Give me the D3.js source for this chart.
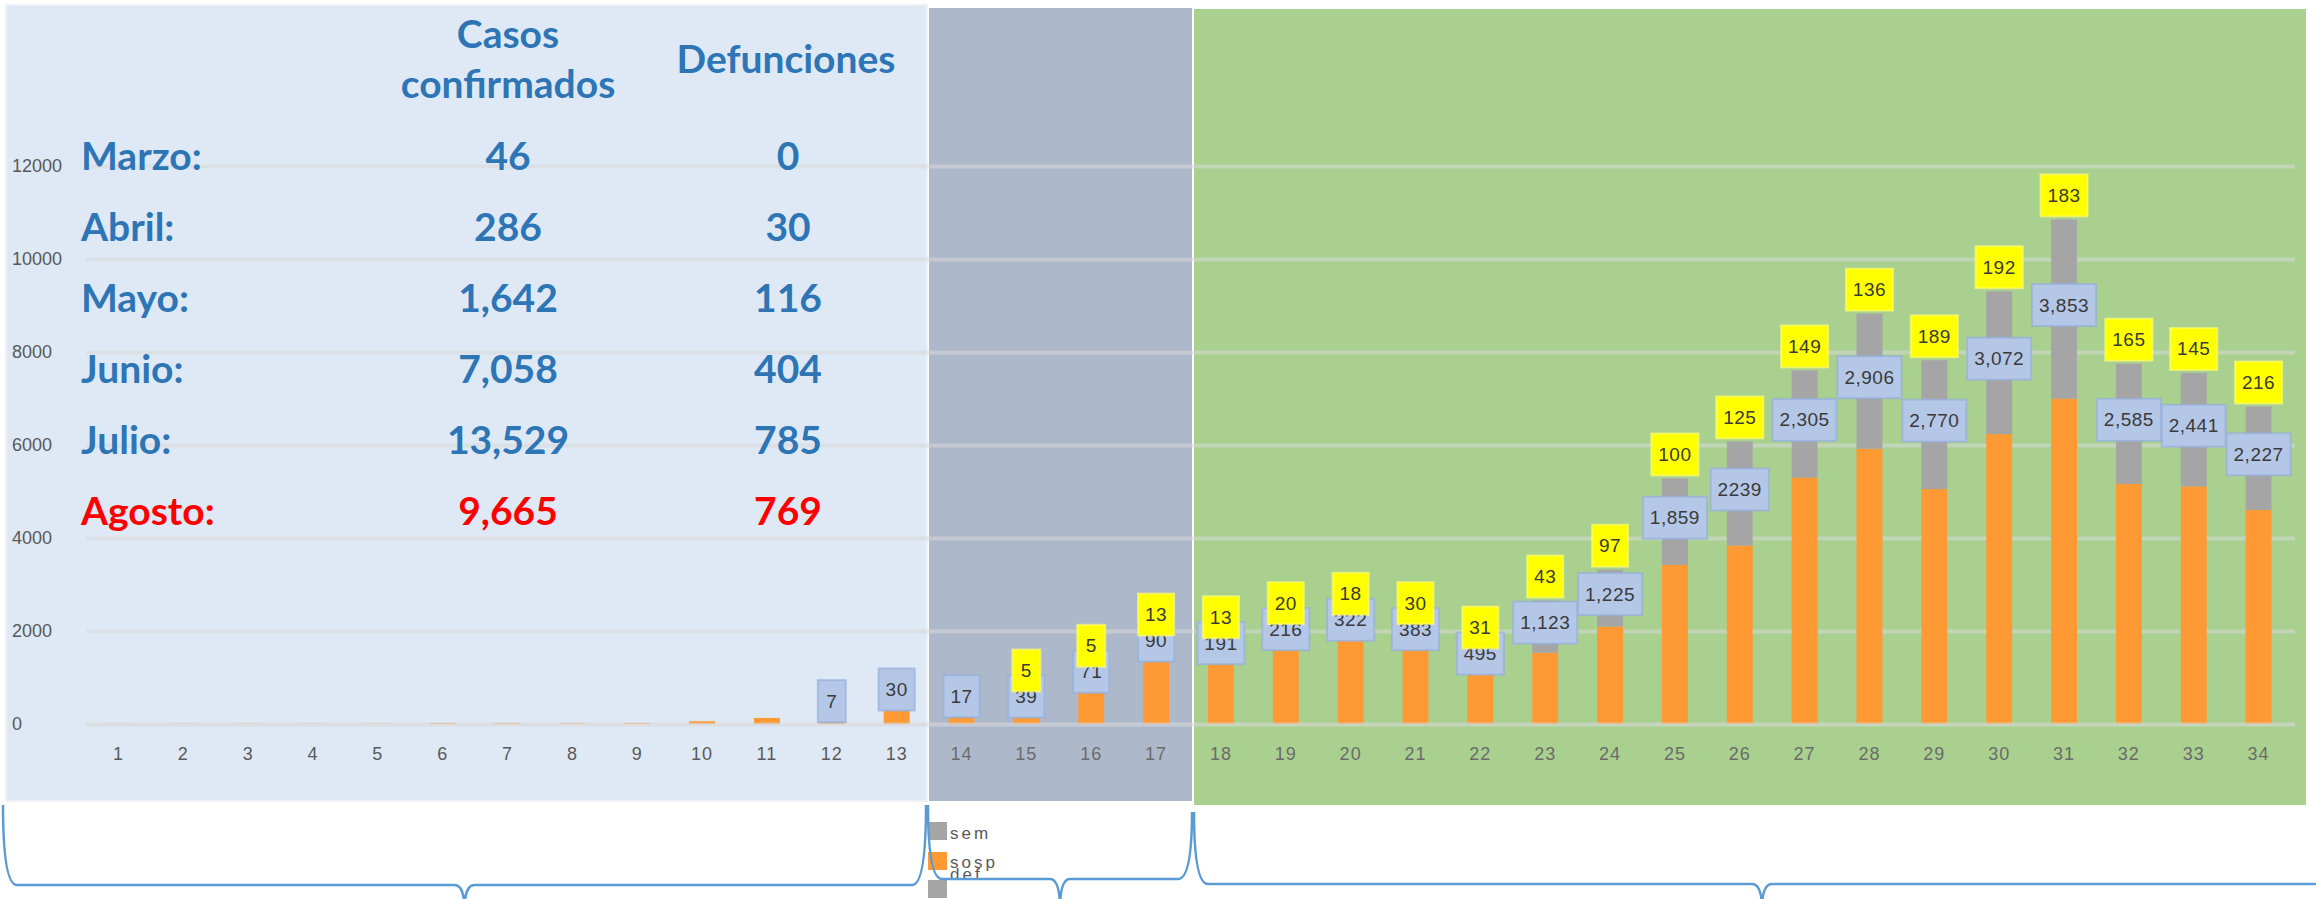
<!DOCTYPE html>
<html>
<head>
<meta charset="utf-8">
<script src="https://cdn.jsdelivr.net/npm/d3@7/dist/d3.min.js"></script>
<style>
  html, body { margin: 0; padding: 0; background: #fff; }
  svg { display: block; }
</style>
</head>
<body>
<svg id="chart" width="2316" height="899"></svg>
<script>
// ========= Data =========
const weeks = ["1","2","3","4","5","6","7","8","9","10","11","12","13","14","15","16","17",
  "18","19","20","21","22","23","24","25","26","27","28","29","30","31","32","33","34"];

// orange segment (sospechosos)
const sospechosos = [3, 4, 6, 5, 8, 20, 18, 15, 22, 60, 130, 40, 290, 145, 140, 671, 1343,
  1286, 1589, 1790, 1589, 1063, 1533, 2094, 3421, 3838, 5300, 5919, 5052, 6234, 6998, 5164, 5108, 4601];

// gray segment (confirmados), blue labels
const confirmados = [0, 0, 0, 0, 0, 0, 0, 0, 0, 0, 0, 7, 30, 17, 39, 71, 90,
  191, 216, 322, 383, 495, 1123, 1225, 1859, 2239, 2305, 2906, 2770, 3072, 3853, 2585, 2441, 2227];
const confirmadosTexto = ["", "", "", "", "", "", "", "", "", "", "", "7", "30", "17", "39", "71", "90",
  "191", "216", "322", "383", "495", "1,123", "1,225", "1,859", "2239", "2,305", "2,906", "2,770",
  "3,072", "3,853", "2,585", "2,441", "2,227"];

// yellow labels (defunciones)
const defunciones = [0, 0, 0, 0, 0, 0, 0, 0, 0, 0, 0, 0, 0, 0, 5, 5, 13,
  13, 20, 18, 30, 31, 43, 97, 100, 125, 149, 136, 189, 192, 183, 165, 145, 216];

const yTicks = [0, 2000, 4000, 6000, 8000, 10000, 12000];

// monthly summary table
const meses = ["Marzo:", "Abril:", "Mayo:", "Junio:", "Julio:", "Agosto:"];
const casosMes = ["46", "286", "1,642", "7,058", "13,529", "9,665"];
const defuncionesMes = ["0", "30", "116", "404", "785", "769"];

const legendNames = ["sem", "sosp", "def"];

// ========= Setup =========
const svg = d3.select("#chart");
const COLORS = {
  panelBlue: "#DEE9F5",
  panelGray: "#ADB9CA",
  panelGreen: "#A9D08E",
  orange: "#FF9933",
  gray: "#A5A5A5",
  boxBlue: "#B4C7E7",
  boxYellow: "#FFFF00",
  text: "#2E75B6",
  red: "#FF0000",
  brace: "#5B9BD5"
};

// ---- background panels
svg.append("rect").attr("x", 6).attr("y", 5).attr("width", 921).attr("height", 796)
  .attr("fill", COLORS.panelBlue).attr("stroke", "#EEF2F6").attr("stroke-width", 2);
svg.append("rect").attr("x", 929).attr("y", 8).attr("width", 263).attr("height", 793)
  .attr("fill", COLORS.panelGray);
svg.append("rect").attr("x", 1194).attr("y", 9).attr("width", 1112).attr("height", 796)
  .attr("fill", COLORS.panelGreen);

// ---- scales
const x = d3.scaleBand()
  .domain(weeks)
  .range([86, 2291])
  .paddingInner(0.6)
  .paddingOuter(0.3);

const y = d3.scaleLinear()
  .domain([0, 12000])
  .range([724, 166]);

const gridLeft = 86, gridRight = 2295;

// ---- gridlines (under bars)
svg.append("g")
  .attr("transform", `translate(${gridLeft},0)`)
  .call(d3.axisLeft(y).tickValues(yTicks.filter(d => d > 0)).tickSize(-(gridRight - gridLeft)).tickFormat(""))
  .call(g => g.select(".domain").remove())
  .call(g => g.selectAll("line").attr("stroke", "rgba(217,217,217,0.55)").attr("stroke-width", 4));

// ---- y tick labels (left aligned)
svg.append("g")
  .attr("transform", "translate(12,0)")
  .call(d3.axisLeft(y).tickValues(yTicks).tickSize(0).tickFormat(d3.format("d")))
  .call(g => g.select(".domain").remove())
  .call(g => g.selectAll("text")
    .attr("x", 0)
    .attr("text-anchor", "start")
    .attr("fill", "#595959")
    .attr("font-family", "Liberation Sans, Arial, sans-serif")
    .attr("font-size", 18));

// ---- stacked bars
const rows = weeks.map((w, i) => ({ week: w, sosp: sospechosos[i], conf: confirmados[i] }));
const series = d3.stack().keys(["sosp", "conf"])(rows);
const barColor = { sosp: COLORS.orange, conf: COLORS.gray };

svg.append("g")
  .selectAll("g")
  .data(series)
  .join("g")
  .attr("fill", d => barColor[d.key])
  .selectAll("rect")
  .data(d => d)
  .join("rect")
  .attr("x", d => x(d.data.week))
  .attr("y", d => y(d[1]))
  .attr("width", x.bandwidth())
  .attr("height", d => Math.max(0, y(d[0]) - y(d[1])));

// ---- zero line on top of the bars
svg.append("g")
  .attr("transform", `translate(${gridLeft},0)`)
  .call(d3.axisLeft(y).tickValues([0]).tickSize(-(gridRight - gridLeft)).tickFormat(""))
  .call(g => g.select(".domain").remove())
  .call(g => g.selectAll("line").attr("stroke", "rgba(217,217,217,0.6)").attr("stroke-width", 4));

// ---- x axis labels
svg.append("g")
  .attr("transform", "translate(0,724)")
  .call(d3.axisBottom(x).tickSize(0).tickPadding(23))
  .call(g => g.select(".domain").remove())
  .call(g => g.selectAll("text")
    .attr("fill", (d) => (+d <= 13 ? "#595959" : "#6b6b6b"))
    .attr("font-family", "Liberation Sans, Arial, sans-serif")
    .attr("font-size", 18)
    .attr("letter-spacing", 1));

// ---- data label boxes
const BOX_H = 42;
function labelBox(parent, cx, cy, text, fill, stroke) {
  const g = parent.append("g");
  const rect = g.append("rect").attr("fill", fill).attr("stroke", stroke).attr("stroke-width", 2);
  const t = g.append("text")
    .attr("x", cx).attr("y", cy)
    .attr("text-anchor", "middle")
    .attr("dominant-baseline", "central")
    .attr("fill", "#3a3a3a")
    .attr("font-family", "Liberation Sans, Arial, sans-serif")
    .attr("font-size", 19)
    .attr("letter-spacing", 0.5)
    .text(text);
  const w = Math.max(28, t.node().getComputedTextLength() + 14);
  rect.attr("x", cx - w / 2).attr("y", cy - BOX_H / 2).attr("width", w).attr("height", BOX_H);
}

const labels = rows.map((d, i) => {
  const cx = x(d.week) + x.bandwidth() / 2;
  const orangeTop = y(d.sosp);
  const barTop = y(d.sosp + d.conf);
  const grayCenter = y(d.sosp + d.conf / 2);
  const blueCy = Math.min(grayCenter - 4, orangeTop - BOX_H / 2);
  const yellowCy = Math.min(barTop - 24, blueCy - 26);
  return { cx, blueCy, yellowCy, conf: confirmadosTexto[i], def: defunciones[i] };
});

const blueLayer = svg.append("g");
labels.filter(l => l.conf !== "").forEach(l =>
  labelBox(blueLayer, l.cx, l.blueCy, l.conf, COLORS.boxBlue, "rgba(150,175,220,0.7)"));

const yellowLayer = svg.append("g");
labels.filter(l => l.def > 0).forEach(l =>
  labelBox(yellowLayer, l.cx, l.yellowCy, String(l.def), COLORS.boxYellow, "rgba(255,255,120,0.6)"));

// ---- monthly table
const table = svg.append("g")
  .attr("font-family", "Lato, 'Open Sans', sans-serif")
  .attr("font-weight", 700)
  .attr("font-size", 39);

table.append("text").attr("x", 508).attr("y", 48).attr("text-anchor", "middle")
  .attr("fill", COLORS.text).text("Casos");
table.append("text").attr("x", 508).attr("y", 98).attr("text-anchor", "middle")
  .attr("fill", COLORS.text).text("confirmados");
table.append("text").attr("x", 786).attr("y", 73).attr("text-anchor", "middle")
  .attr("fill", COLORS.text).text("Defunciones");

meses.forEach((m, i) => {
  const yy = 170 + i * 71;
  const col = i === meses.length - 1 ? COLORS.red : COLORS.text;
  table.append("text").attr("x", 81).attr("y", yy).attr("fill", col).text(m);
  table.append("text").attr("x", 508).attr("y", yy).attr("text-anchor", "middle").attr("fill", col).text(casosMes[i]);
  table.append("text").attr("x", 788).attr("y", yy).attr("text-anchor", "middle").attr("fill", col).text(defuncionesMes[i]);
});

// ---- legend (bottom, overlapping like the original)
const legendY = [822, 852, 880];
const legendTextY = [833, 862, 874];
const legendColors = [COLORS.gray, COLORS.orange, COLORS.gray];
const legend = svg.append("g");
legendNames.forEach((n, i) => {
  legend.append("rect").attr("x", 928).attr("y", legendY[i]).attr("width", 19).attr("height", 18)
    .attr("fill", legendColors[i]);
  legend.append("text").attr("x", 950).attr("y", legendTextY[i])
    .attr("dominant-baseline", "central")
    .attr("fill", "#595959")
    .attr("font-family", "Liberation Sans, Arial, sans-serif")
    .attr("font-size", 17)
    .attr("letter-spacing", 3)
    .text(n);
});

// ---- curly braces under the panels
function bracePath(x0, x1, yTop0, yTop1, yLine, yTip) {
  const xm = (x0 + x1) / 2;
  const r = 14, rt = 10;
  return `M${x0},${yTop0} Q${x0},${yLine} ${x0 + r},${yLine} L${xm - rt},${yLine} Q${xm},${yLine} ${xm},${yTip}` +
    ` M${xm},${yTip} Q${xm},${yLine} ${xm + rt},${yLine} L${x1 - r},${yLine} Q${x1},${yLine} ${x1},${yTop1}`;
}
const braces = svg.append("g")
  .attr("fill", "none")
  .attr("stroke", COLORS.brace)
  .attr("stroke-width", 2.5);
braces.append("path").attr("d", bracePath(3, 926, 805, 805, 885, 910));
braces.append("path").attr("d", bracePath(928, 1192, 805, 812, 879, 910));
braces.append("path").attr("d", bracePath(1194, 2330, 812, 812, 884, 910));
</script>
</body>
</html>
